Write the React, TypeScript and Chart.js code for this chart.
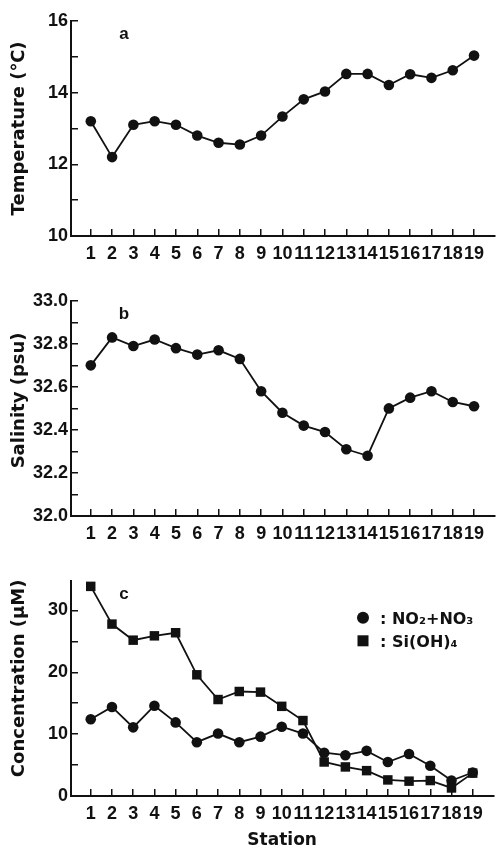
import React, { useEffect, useRef } from 'react';
import { Chart, registerables } from 'chart.js';

Chart.register(...registerables);

const stations = [1, 2, 3, 4, 5, 6, 7, 8, 9, 10, 11, 12, 13, 14, 15, 16, 17, 18, 19];
const temperature = [13.2, 12.2, 13.1, 13.2, 13.1, 12.8, 12.6, 12.55, 12.8, 13.33, 13.81, 14.03, 14.52, 14.52, 14.21, 14.51, 14.41, 14.62, 15.03];
const salinity = [32.7, 32.83, 32.79, 32.82, 32.78, 32.75, 32.77, 32.73, 32.58, 32.48, 32.42, 32.39, 32.31, 32.28, 32.5, 32.55, 32.58, 32.53, 32.51];
const nitrate = [12.4, 14.4, 11.1, 14.6, 11.9, 8.7, 10.1, 8.7, 9.6, 11.2, 10.1, 7.0, 6.6, 7.3, 5.5, 6.8, 4.9, 2.5, 3.8];
const silicate = [33.9, 27.8, 25.2, 25.9, 26.4, 19.6, 15.6, 16.9, 16.8, 14.5, 12.2, 5.5, 4.7, 4.1, 2.6, 2.4, 2.5, 1.3, 3.7];

const panelLabels = ['a', 'b', 'c'];
const yTitles = ['Temperature (℃)', 'Salinity (psu)', 'Concentration (μM)'];
const xTitle = 'Station';
const legendLabels = [': NO₂+NO₃', ': Si(OH)₄'];

const INK = '#111';
const TICK_FONT = { family: "'Liberation Sans', Arial, sans-serif", size: 18, weight: 'bold' as const };
const TITLE_FONT = { family: "'DejaVu Sans', sans-serif", size: 18, weight: 'bold' as const };

function pts(values: number[]) {
  return stations.map((s, i) => ({ x: s, y: values[i] }));
}

function xScale(height: number, showTitle: boolean) {
  return {
    type: 'linear' as const,
    min: 0.07,
    max: 19.97,
    afterFit: (s: any) => {
      s.height = height;
    },
    border: { display: true, color: INK, width: 2 },
    grid: { drawOnChartArea: false, drawTicks: true, tickLength: -7, color: INK, lineWidth: 1.5 },
    ticks: {
      stepSize: 1,
      includeBounds: false,
      autoSkip: false,
      maxRotation: 0,
      minRotation: 0,
      padding: 14,
      font: TICK_FONT,
      color: INK,
      callback: (v: any) => String(v),
    },
    title: showTitle
      ? {
          display: true,
          text: xTitle,
          color: INK,
          font: { ...TITLE_FONT, size: 17, lineHeight: 1 },
          padding: { top: 0, bottom: 0 },
        }
      : { display: false },
  };
}

function yScale(min: number, max: number, step: number, label: (v: number) => string, title: string) {
  return {
    type: 'linear' as const,
    min,
    max,
    afterFit: (s: any) => {
      s.width = 71;
    },
    border: { display: true, color: INK, width: 2 },
    grid: { drawOnChartArea: false, drawTicks: true, tickLength: -7, color: INK, lineWidth: 1.5 },
    ticks: {
      stepSize: step,
      includeBounds: false,
      autoSkip: false,
      padding: 10,
      font: TICK_FONT,
      color: INK,
      callback: (v: any) => label(Number(v)),
    },
    title: {
      display: true,
      text: title,
      color: INK,
      font: TITLE_FONT,
      padding: { top: 9, bottom: 0 },
    },
  };
}

function lineDataset(label: string, values: number[], style: string, radius: number) {
  return {
    label,
    data: pts(values),
    borderColor: INK,
    backgroundColor: INK,
    borderWidth: 1.8,
    pointStyle: style,
    pointRadius: radius,
    pointBorderWidth: 0,
    pointBackgroundColor: INK,
    tension: 0,
    clip: false as any,
  };
}

function panelLabelPlugin(text: string) {
  return {
    id: 'panelLabel',
    afterDraw(chart: any) {
      const { ctx, chartArea } = chart;
      ctx.save();
      ctx.fillStyle = INK;
      ctx.font = "bold 17px 'Liberation Sans', Arial, sans-serif";
      ctx.textAlign = 'center';
      ctx.textBaseline = 'alphabetic';
      ctx.fillText(text, chartArea.left + 53, chartArea.top + 18);
      ctx.restore();
    },
  };
}

// shifts the y-axis title along the axis (negative = upwards)
function titleShiftPlugin(dy: number) {
  return {
    id: 'titleShift',
    beforeDraw(chart: any) {
      const s = chart.scales.y;
      if (!s || s._shiftWrapped) return;
      const orig = s.drawTitle;
      s.drawTitle = function (...args: any[]) {
        const ctx = this.ctx;
        ctx.save();
        ctx.translate(0, dy);
        orig.apply(this, args);
        ctx.restore();
      };
      s._shiftWrapped = true;
    },
  };
}

const legendPlugin = {
  id: 'customLegend',
  afterDraw(chart: any) {
    const { ctx, chartArea } = chart;
    const mx = chartArea.left + 292;
    ctx.save();
    ctx.fillStyle = INK;
    ctx.beginPath();
    ctx.arc(mx, chartArea.top + 37, 6, 0, Math.PI * 2);
    ctx.fill();
    ctx.fillRect(mx - 5.5, chartArea.top + 60 - 5.5, 11, 11);
    ctx.font = "bold 16px 'DejaVu Sans', sans-serif";
    ctx.textAlign = 'left';
    ctx.textBaseline = 'alphabetic';
    ctx.fillText(legendLabels[0], chartArea.left + 309, chartArea.top + 43);
    ctx.fillText(legendLabels[1], chartArea.left + 309, chartArea.top + 66);
    ctx.restore();
  },
};

function baseOptions(x: any, y: any) {
  return {
    responsive: false,
    animation: false as const,
    devicePixelRatio: 1,
    layout: { padding: { top: 20, right: 0, left: 0, bottom: 0 } },
    plugins: { legend: { display: false }, tooltip: { enabled: false } },
    scales: { x, y },
  };
}

export default function App() {
  const refA = useRef<HTMLCanvasElement>(null);
  const refB = useRef<HTMLCanvasElement>(null);
  const refC = useRef<HTMLCanvasElement>(null);

  useEffect(() => {
    const charts: Chart[] = [];
    if (refA.current) {
      charts.push(
        new Chart(refA.current, {
          type: 'line',
          data: { datasets: [lineDataset('Temperature', temperature, 'circle', 5.3) as any] },
          options: baseOptions(
            xScale(44, false),
            yScale(10, 16, 1, (v) => (Math.round(v) % 2 === 0 ? String(Math.round(v)) : ''), yTitles[0])
          ) as any,
          plugins: [panelLabelPlugin(panelLabels[0])],
        })
      );
    }
    if (refB.current) {
      charts.push(
        new Chart(refB.current, {
          type: 'line',
          data: { datasets: [lineDataset('Salinity', salinity, 'circle', 5.3) as any] },
          options: baseOptions(
            xScale(44, false),
            yScale(
              32,
              33,
              0.1,
              (v) => {
                const k = Math.round(v * 10);
                return k % 2 === 0 ? (k / 10).toFixed(1) : '';
              },
              yTitles[1]
            )
          ) as any,
          plugins: [panelLabelPlugin(panelLabels[1]), titleShiftPlugin(-8)],
        })
      );
    }
    if (refC.current) {
      charts.push(
        new Chart(refC.current, {
          type: 'line',
          data: {
            datasets: [
              lineDataset('Si(OH)4', silicate, 'rect', 6.7) as any,
              lineDataset('NO2+NO3', nitrate, 'circle', 5.3) as any,
            ],
          },
          options: baseOptions(
            xScale(53, true),
            yScale(0, 34.8, 5, (v) => (Math.round(v) % 10 === 0 ? String(Math.round(v)) : ''), yTitles[2])
          ) as any,
          plugins: [panelLabelPlugin(panelLabels[2]), legendPlugin, titleShiftPlugin(-10)],
        })
      );
    }
    return () => {
      charts.forEach((c) => c.destroy());
    };
  }, []);

  const cstyle = (top: number): React.CSSProperties => ({ position: 'absolute', left: 0, top, display: 'block' });

  return (
    <div style={{ position: 'absolute', left: 0, top: 0, width: 500, height: 849, overflow: 'hidden', background: '#fff' }}>
      <canvas ref={refA} width={500} height={280} style={cstyle(0)} />
      <canvas ref={refB} width={500} height={280} style={cstyle(280)} />
      <canvas ref={refC} width={500} height={289} style={cstyle(560)} />
    </div>
  );
}
